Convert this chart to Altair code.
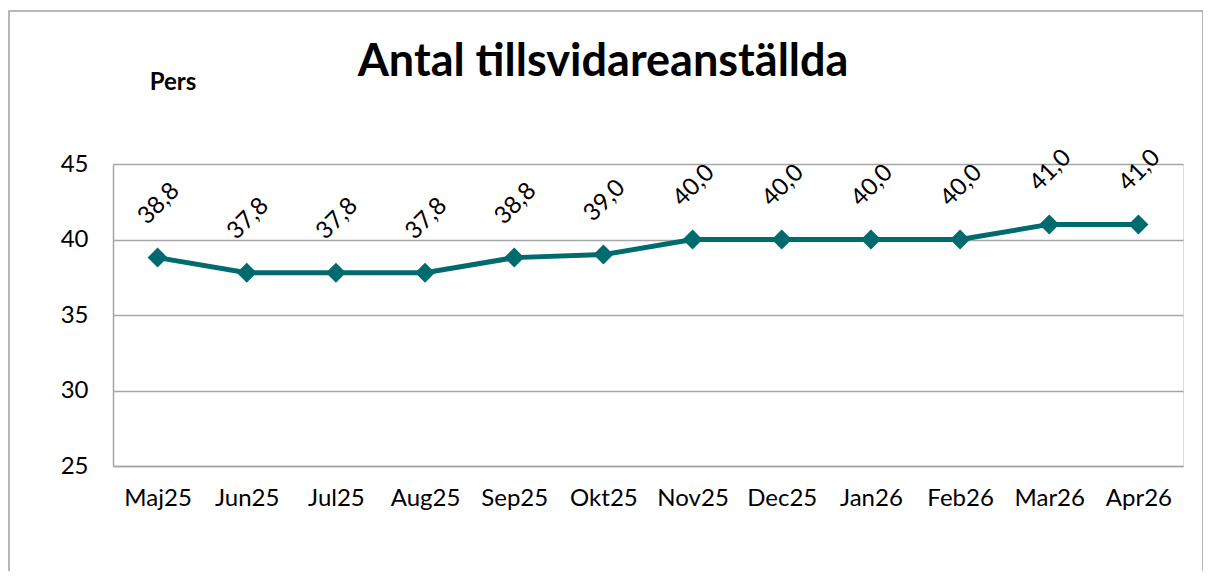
import altair as alt
import pandas as pd

months = ["Maj25", "Jun25", "Jul25", "Aug25", "Sep25", "Okt25",
          "Nov25", "Dec25", "Jan26", "Feb26", "Mar26", "Apr26"]
values = [38.8, 37.8, 37.8, 37.8, 38.8, 39.0, 40.0, 40.0, 40.0, 40.0, 41.0, 41.0]
labels = [f"{v:.1f}".replace(".", ",") for v in values]
y_ticks = [25, 30, 35, 40, 45]

df = pd.DataFrame({"month": months, "value": values, "label": labels})

FONT = "Lato"
TEAL = "#006B6E"
W, H = 1070, 302
FS = 24

x = alt.X("month:O", sort=months, title=None,
          axis=alt.Axis(labelAngle=0, labelFontSize=FS, labelFont=FONT, labelColor="#000",
                        ticks=False, domainColor="#A6A6A6", domainWidth=1.5,
                        labelPadding=20))
y = alt.Y("value:Q", title=None,
          scale=alt.Scale(domain=[25, 45], nice=False, zero=False),
          axis=alt.Axis(values=y_ticks, labelFontSize=FS, labelFont=FONT, labelColor="#000",
                        ticks=False, domainColor="#A6A6A6", domainWidth=1.5,
                        gridColor="#A6A6A6", gridWidth=1.5, labelPadding=25))

base = alt.Chart(df)

line = base.mark_line(color=TEAL, strokeWidth=5).encode(x=x, y=y)
points = base.mark_point(shape="diamond", filled=True, color=TEAL, size=400, opacity=1).encode(x=x, y=y)
text = base.mark_text(angle=315, fontSize=FS, font=FONT, color="#000",
                      align="center", baseline="middle", dx=39, dy=-37).encode(
    x=x, y=y, text="label:N")

border = alt.Chart(pd.DataFrame({"a": [0]})).mark_rect(
    fill=None, stroke="#A0A0A0", strokeWidth=1.5, clip=False).encode(
    x=alt.value(-104), x2=alt.value(1090), y=alt.value(-153), y2=alt.value(450))

title = alt.Chart(pd.DataFrame({"t": ["Antal tillsvidareanställda"]})).mark_text(
    fontSize=45, fontWeight="bold", font=FONT, color="#000",
    align="center", baseline="middle").encode(
    x=alt.value(490), y=alt.value(-102), text="t:N")

pers = alt.Chart(pd.DataFrame({"t": ["Pers"]})).mark_text(
    fontSize=FS, fontWeight="bold", font=FONT, color="#000",
    align="center", baseline="middle").encode(
    x=alt.value(60), y=alt.value(-81), text="t:N")

chart = alt.layer(border, line, points, text, title, pers).properties(
    width=W, height=H,
    autosize=alt.AutoSizeParams(type="none"),
    padding={"left": 105, "top": 156, "right": 20, "bottom": 105},
).configure_view(stroke=None).configure(background="white")

chart.save("out.html", embed_options={"renderer": "svg", "actions": False})
